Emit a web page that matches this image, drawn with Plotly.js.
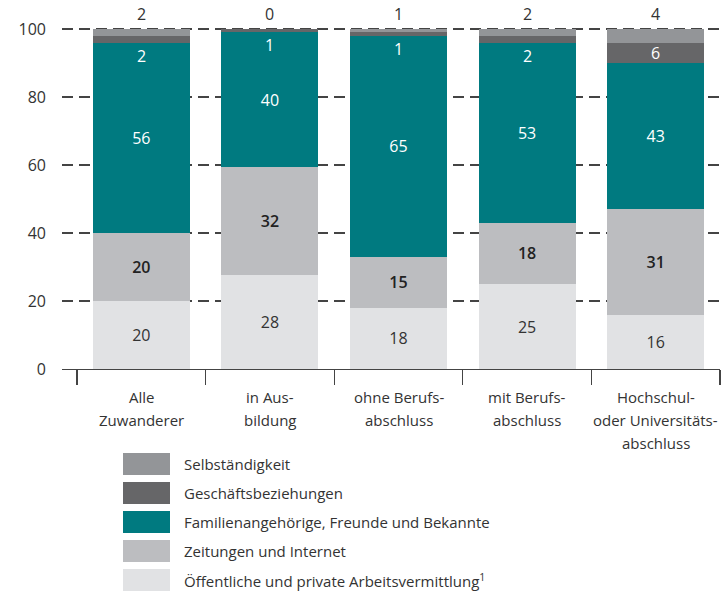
<!DOCTYPE html>
<html>
<head>
<meta charset="utf-8">
<script src="https://cdn.plot.ly/plotly-3.0.1.min.js"></script>
<style>html,body{margin:0;padding:0;background:#fff;}#chart{width:727px;height:591px;}</style>
</head>
<body>
<div id="chart"></div>
<script>
// ---- data ----
const categories = [
  "Alle<br>Zuwanderer",
  "in Aus-<br>bildung",
  "ohne Berufs-<br>abschluss",
  "mit Berufs-<br>abschluss",
  "Hochschul-<br>oder Universitäts-<br>abschluss"
];
const seriesNames = [
  "Öffentliche und private Arbeitsvermittlung<sup>1</sup>",
  "Zeitungen und Internet",
  "Familienangehörige, Freunde und Bekannte",
  "Geschäftsbeziehungen",
  "Selbständigkeit"
];
const oeffentliche = [20, 27.6, 18, 25, 16];
const zeitungen    = [20, 31.8, 15, 18, 31];
const familie      = [56, 39.6, 65, 53, 43];
const geschaeft    = [2, 1, 1, 2, 6];
const selbst       = [2, 0, 1, 2, 4];

const colors = ["#e1e2e4", "#bcbdc0", "#007a80", "#666668", "#939598"];
const FONT = "Open Sans, Noto Sans, sans-serif";
const TXT = "#333333";

const values = [oeffentliche, zeitungen, familie, geschaeft, selbst];
const textFonts = [
  {family: FONT, size: 16, color: TXT, weight: 400},
  {family: FONT, size: 16, color: "#222222", weight: 600},
  {family: FONT, size: 16, color: "#ffffff", weight: 500},
  null, null
];

const x = categories.map((c, i) => i);

const traces = values.map((v, k) => {
  const t = {
    type: "bar",
    x: x,
    y: v,
    name: seriesNames[k],
    marker: {color: colors[k], line: {width: 0}},
    showlegend: false,
    hoverinfo: "skip"
  };
  if (textFonts[k]) {
    t.texttemplate = "%{y:.0f}";
    t.textposition = "inside";
    t.insidetextanchor = "middle";
    t.textangle = 0;
    t.constraintext = "none";
    t.textfont = textFonts[k];
  } else {
    t.textposition = "none";
  }
  return t;
});

const annotations = [];
// Geschäftsbeziehungen labels
x.forEach(i => {
  const base = oeffentliche[i] + zeitungen[i] + familie[i];
  const v = geschaeft[i];
  const big = v >= 4;
  annotations.push({
    x: i, y: big ? base + v / 2 : base, xref: "x", yref: "y",
    text: String(Math.round(v)), showarrow: false,
    yanchor: big ? "middle" : "top",
    font: {family: FONT, size: 16, color: "#ffffff", weight: 500}
  });
});
// Selbständigkeit labels above bars
x.forEach(i => {
  annotations.push({
    x: i, y: 100, xref: "x", yref: "y",
    text: String(Math.round(selbst[i])), showarrow: false,
    yanchor: "bottom", yshift: 2,
    font: {family: FONT, size: 16, color: TXT}
  });
});
// category labels, one line each (reference uses wide line spacing)
x.forEach(i => {
  categories[i].split("<br>").forEach((line, j) => {
    annotations.push({
      x: i, y: 0, xref: "x", yref: "y",
      text: line, showarrow: false,
      yanchor: "middle", yshift: -(27.5 + j * 23),
      font: {family: FONT, size: 15, color: TXT}
    });
  });
});

// custom legend (top to bottom: reverse stack order)
const L = 62, R = 720, T = 28, B = 369;
const pw = R - L, ph = B - T;
const px = v => (v - L) / pw;
const py = v => (B - v) / ph;
const shapes = [];
const legendOrder = [4, 3, 2, 1, 0];
legendOrder.forEach((k, r) => {
  const cy = 464 + r * 29;
  shapes.push({
    type: "rect", xref: "paper", yref: "paper",
    x0: px(123), x1: px(170), y0: py(cy + 11), y1: py(cy - 11),
    fillcolor: colors[k], line: {width: 0}
  });
  annotations.push({
    xref: "paper", yref: "paper", x: px(182), y: py(cy),
    xanchor: "left", yanchor: "middle", showarrow: false,
    text: seriesNames[k],
    font: {family: FONT, size: 15, color: TXT}
  });
});

const layout = {
  width: 727, height: 591,
  margin: {l: L, r: 727 - R, t: T, b: 591 - B, pad: 0},
  paper_bgcolor: "#ffffff", plot_bgcolor: "#ffffff",
  barmode: "stack", bargap: 0.245,
  font: {family: FONT, color: TXT},
  xaxis: {
    type: "linear",
    range: [-0.5 - 15 / 128.6, 4.5],
    tickmode: "array", tickvals: [-0.5, 0.5, 1.5, 2.5, 3.5, 4.5],
    ticks: "outside", ticklen: 15, tickcolor: "#444444", tickwidth: 1.3,
    showticklabels: false, showgrid: false, zeroline: false,
    showline: true, linecolor: "#444444", linewidth: 1.3,
    fixedrange: true
  },
  yaxis: {
    range: [0, 100.3], tickvals: [0, 20, 40, 60, 80, 100],
    showgrid: true, gridcolor: "#444444", gridwidth: 1.3, griddash: "11px,6px",
    zeroline: false, showline: false, ticks: "",
    ticklabelstandoff: 15,
    tickfont: {family: FONT, size: 16, color: TXT},
    fixedrange: true
  },
  shapes: shapes,
  annotations: annotations,
  showlegend: false
};

Plotly.newPlot("chart", traces, layout, {displayModeBar: false, staticPlot: true});
</script>
</body>
</html>
